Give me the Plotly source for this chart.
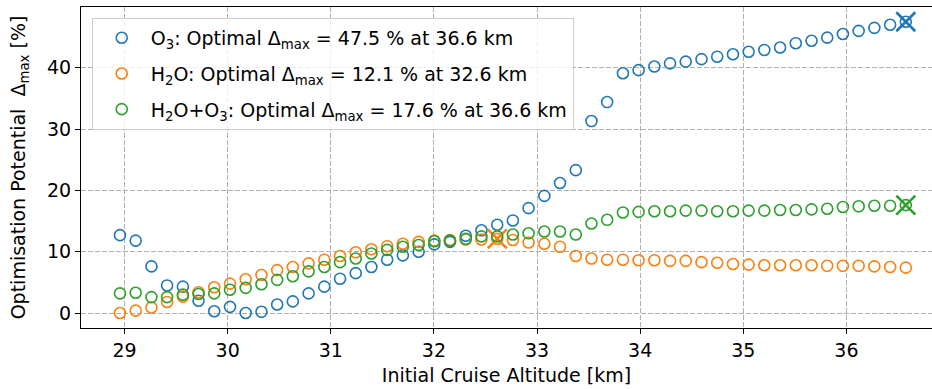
import plotly.graph_objects as go

# Initial cruise altitude [km] (95 000 ft .. 120 000 ft in 500 ft steps)
altitude_km = [28.956, 29.108, 29.261, 29.413, 29.566, 29.718, 29.870, 30.023, 30.175, 30.328,
               30.480, 30.632, 30.785, 30.937, 31.090, 31.242, 31.394, 31.547, 31.699, 31.852,
               32.004, 32.156, 32.309, 32.461, 32.614, 32.766, 32.918, 33.071, 33.223, 33.376,
               33.528, 33.680, 33.833, 33.985, 34.138, 34.290, 34.442, 34.595, 34.747, 34.900,
               35.052, 35.204, 35.357, 35.509, 35.662, 35.814, 35.966, 36.119, 36.271, 36.424,
               36.576]

o3 = [12.7, 11.8, 7.6, 4.5, 4.3, 2.0, 0.3, 1.0, 0.0, 0.2,
      1.4, 1.9, 3.2, 4.3, 5.6, 6.5, 7.5, 8.7, 9.4, 10.0,
      11.2, 11.6, 12.6, 13.5, 14.4, 15.1, 17.1, 19.1, 21.2, 23.3,
      31.3, 34.4, 39.1, 39.6, 40.2, 40.7, 41.0, 41.4, 41.8, 42.2,
      42.6, 42.9, 43.3, 44.0, 44.4, 44.9, 45.5, 46.0, 46.5, 47.0,
      47.5]

h2o = [0.0, 0.4, 0.9, 1.8, 2.7, 3.4, 4.2, 4.8, 5.5, 6.2,
       7.0, 7.5, 8.1, 8.7, 9.3, 9.9, 10.4, 10.9, 11.3, 11.6,
       11.8, 11.9, 12.0, 12.0, 12.1, 11.9, 11.5, 11.3, 10.8, 9.3,
       8.9, 8.7, 8.7, 8.6, 8.6, 8.5, 8.5, 8.3, 8.2, 8.0,
       7.9, 7.8, 7.8, 7.8, 7.8, 7.7, 7.7, 7.7, 7.6, 7.5,
       7.4]

h2o_o3 = [3.2, 3.3, 2.6, 2.6, 3.0, 3.1, 3.2, 3.8, 4.1, 4.7,
          5.4, 6.0, 6.8, 7.5, 8.3, 8.9, 9.7, 10.3, 10.8, 11.1,
          11.7, 11.8, 12.1, 12.5, 12.5, 12.8, 13.0, 13.3, 13.3, 12.8,
          14.6, 15.2, 16.4, 16.5, 16.6, 16.6, 16.7, 16.7, 16.6, 16.6,
          16.7, 16.7, 16.8, 16.8, 16.9, 17.0, 17.3, 17.4, 17.5, 17.5,
          17.6]

series = [
    ("O<sub>3</sub>", o3, "#1f77b4"),
    ("H<sub>2</sub>O", h2o, "#ff7f0e"),
    ("H<sub>2</sub>O+O<sub>3</sub>", h2o_o3, "#2ca02c"),
]

FONT = "DejaVu Sans"
FS = 19
fig = go.Figure()

for k, (name, vals, col) in enumerate(series):
    imax = max(range(len(vals)), key=lambda i: vals[i])
    label = (f"{name}: Optimal Δ<sub>max</sub> = {vals[imax]:.1f} % "
             f"at {altitude_km[imax]:.1f} km")
    fig.add_trace(go.Scatter(
        x=altitude_km, y=vals, mode="markers", name=label,
        legendgroup=f"g{k}",
        marker=dict(symbol="circle-open", size=11, color=col,
                    line=dict(width=1.6, color=col)),
    ))
    fig.add_trace(go.Scatter(
        x=[altitude_km[imax]], y=[vals[imax]], mode="markers",
        showlegend=False,
        marker=dict(symbol="x-thin-open", size=19, color=col,
                    line=dict(width=2.6, color=col)),
    ))

axis_common = dict(
    showline=True, linecolor="black", linewidth=1,
    ticks="outside", ticklen=5, tickwidth=1, tickcolor="black",
    showgrid=True, gridcolor="#b0b0b0", gridwidth=1, griddash="5px,2px",
    zeroline=False, automargin=False,
    tickfont=dict(family=FONT, size=FS, color="black"),
)

fig.update_xaxes(
    **axis_common,
    range=[28.578, 36.83], tickmode="array",
    tickvals=[29, 30, 31, 32, 33, 34, 35, 36],
    ticktext=["29", "30", "31", "32", "33", "34", "35", "36"],
    mirror=True,
    title=dict(text="Initial Cruise Altitude [km]", standoff=8,
               font=dict(family=FONT, size=FS, color="black")),
)
fig.update_yaxes(
    **axis_common,
    range=[-2.44, 49.9], tickmode="array",
    tickvals=[0, 10, 20, 30, 40],
    ticktext=["0", "10", "20", "30", "40"],
    title=dict(text="Optimisation Potential  Δ<sub>max</sub> [%]", standoff=16,
               font=dict(family=FONT, size=FS, color="black")),
)

fig.update_layout(
    width=932, height=389,
    margin=dict(l=81, r=0, t=7, b=61),
    paper_bgcolor="white", plot_bgcolor="white",
    font=dict(family=FONT, size=FS, color="black"),
    showlegend=True,
    legend=dict(
        x=0.0126, y=0.966, xanchor="left", yanchor="top",
        bgcolor="rgba(255,255,255,0.8)", bordercolor="#cccccc", borderwidth=1,
        font=dict(family=FONT, size=FS, color="black"),
        tracegroupgap=8, itemwidth=48,
    ),
)

fig.write_html("out.html",
               config={"displayModeBar": False},
               post_script="document.body.style.margin='0px';document.body.style.padding='0px';")
